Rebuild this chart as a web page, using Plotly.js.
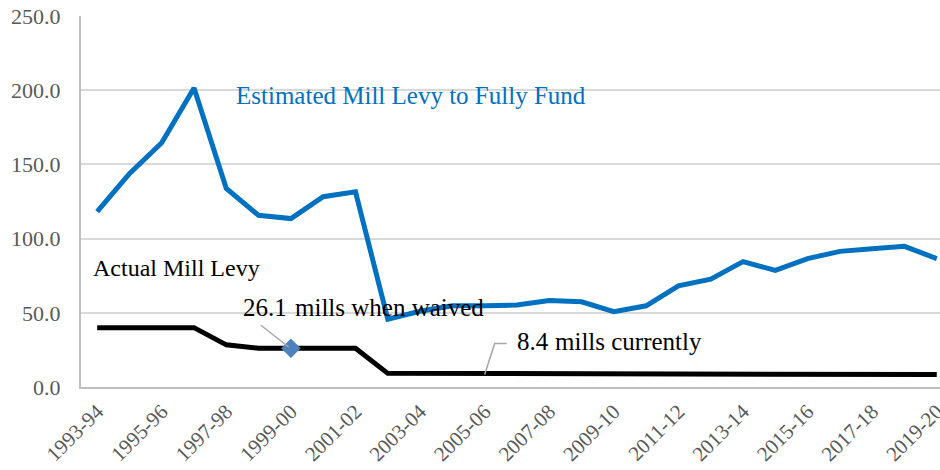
<!DOCTYPE html>
<html>
<head>
<meta charset="utf-8">
<script src="https://cdn.plot.ly/plotly-3.0.1.min.js"></script>
<style>
html,body{margin:0;padding:0;background:#fff;}
#chart{width:940px;height:470px;}
</style>
</head>
<body>
<div id="chart"></div>
<script>
var years = ["1993-94","1994-95","1995-96","1996-97","1997-98","1998-99","1999-00","2000-01","2001-02","2002-03","2003-04","2004-05","2005-06","2006-07","2007-08","2008-09","2009-10","2010-11","2011-12","2012-13","2013-14","2014-15","2015-16","2016-17","2017-18","2018-19","2019-20"];
var fullyFund = [118.2,143.8,164.6,201.5,133.8,115.7,113.5,128.2,131.5,45.7,51.0,54.7,54.7,55.2,58.3,57.4,50.7,54.7,68.2,72.7,84.5,78.6,86.5,91.4,93.2,94.8,86.5];
var actualLevy = [40.0,40.0,40.0,40.0,28.4,26.1,26.1,26.1,26.1,9.2,9.2,9.1,8.4,8.4,8.4,8.4,8.4,8.4,8.4,8.4,8.4,8.4,8.4,8.4,8.4,8.4,8.4];
var tickLabels = ["1993-94","1995-96","1997-98","1999-00","2001-02","2003-04","2005-06","2007-08","2009-10","2011-12","2013-14","2015-16","2017-18","2019-20"];
var waivedYear = "1999-00";
var currentYear = "2005-06";

var waivedIdx = years.indexOf(waivedYear);
var currentIdx = years.indexOf(currentYear);
var FONT = "Liberation Serif";

function draw() {
  var traces = [
    {x: years, y: fullyFund, type: "scatter", mode: "lines", name: "Estimated Mill Levy to Fully Fund",
     line: {color: "#0070C0", width: 5}, cliponaxis: false},
    {x: years, y: actualLevy, type: "scatter", mode: "lines", name: "Actual Mill Levy",
     line: {color: "#000000", width: 5}, cliponaxis: false},
    {x: [waivedYear], y: [actualLevy[waivedIdx]], type: "scatter", mode: "markers", name: "waived",
     marker: {symbol: "diamond", size: 15, color: "#4F81BD"}}
  ];

  var layout = {
    width: 940, height: 470,
    margin: {l: 81, r: 0, t: 16, b: 83},
    paper_bgcolor: "#fff", plot_bgcolor: "#fff",
    showlegend: false,
    font: {family: FONT, color: "#595959"},
    xaxis: {
      type: "category", range: [-0.5, 26.1],
      tickmode: "array", tickvals: tickLabels, ticktext: tickLabels,
      tickangle: -45, tickfont: {size: 21, color: "#595959", family: FONT},
      showgrid: false, showline: true, linecolor: "#bfbfbf", linewidth: 2,
      ticks: "", ticklabelstandoff: 2, zeroline: false
    },
    yaxis: {
      range: [0, 250], dtick: 50, tick0: 0, tickformat: ".1f",
      tickfont: {size: 22, color: "#595959", family: FONT},
      showgrid: true, gridcolor: "#d9d9d9", gridwidth: 2,
      showline: true, linecolor: "#bfbfbf", linewidth: 2,
      ticks: "", ticklabelstandoff: 14, zeroline: false
    },
    annotations: [
      {x: 4.24, y: 196.3, xref: "x", yref: "y", text: "Estimated Mill Levy to Fully Fund",
       showarrow: false, xanchor: "left", yanchor: "middle",
       font: {size: 25, color: "#0070C0", family: FONT}},
      {x: -0.19, y: 80, xref: "x", yref: "y", text: "Actual Mill Levy",
       showarrow: false, xanchor: "left", yanchor: "middle",
       font: {size: 24, color: "#000000", family: FONT}},
      {x: 4.46, y: 53.4, xref: "x", yref: "y", text: actualLevy[waivedIdx].toFixed(1),
       showarrow: false, xanchor: "left", yanchor: "middle",
       font: {size: 25, color: "#000000", family: FONT}},
      {x: 6.07, y: 53.4, xref: "x", yref: "y", text: "mills when waived",
       showarrow: false, xanchor: "left", yanchor: "middle",
       font: {size: 25, color: "#000000", family: FONT}},
      {x: 12.94, y: 30.4, xref: "x", yref: "y", text: actualLevy[currentIdx].toFixed(1),
       showarrow: false, xanchor: "left", yanchor: "middle",
       font: {size: 25, color: "#000000", family: FONT}},
      {x: 14.12, y: 30.4, xref: "x", yref: "y", text: "mills currently",
       showarrow: false, xanchor: "left", yanchor: "middle",
       font: {size: 25, color: "#000000", family: FONT}}
    ],
    shapes: [
      {type: "line", xref: "x", yref: "y", xsizemode: "pixel", ysizemode: "pixel",
       xanchor: waivedIdx, yanchor: actualLevy[waivedIdx],
       x0: -30, y0: 23, x1: -2, y1: 1, line: {color: "#a6a6a6", width: 1.5}},
      {type: "path", xref: "x", yref: "y", xsizemode: "pixel", ysizemode: "pixel",
       xanchor: currentIdx, yanchor: actualLevy[currentIdx],
       path: "M0,0 L10,31 L22,31", line: {color: "#a6a6a6", width: 1.5}}
    ]
  };

  Plotly.newPlot("chart", traces, layout, {staticPlot: true, displayModeBar: false});
}

if (document.fonts && document.fonts.load) {
  Promise.all([
    document.fonts.load('21px "Liberation Serif"'),
    document.fonts.load('25px "Liberation Serif"')
  ]).then(draw, draw);
} else {
  draw();
}
</script>
</body>
</html>
